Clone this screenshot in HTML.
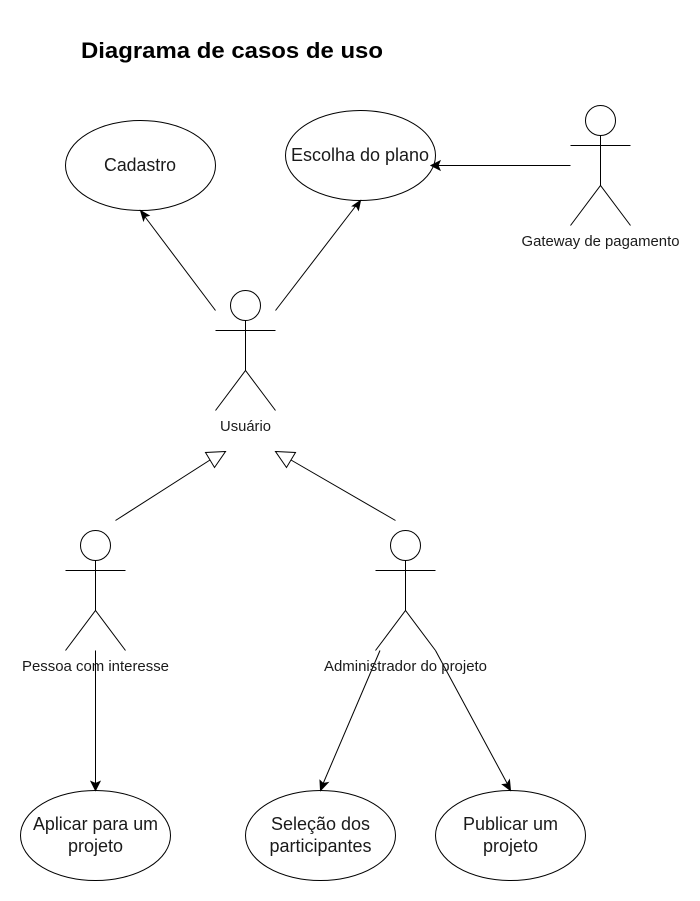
<!DOCTYPE html>
<html>
<head>
<meta charset="utf-8">
<style>
html,body{margin:0;padding:0;background:#fff;}
svg{display:block;}
text{font-family:"Liberation Sans",Arial,sans-serif;fill:#1a1a1a;text-anchor:middle;}
.l{font-size:18px;}
.a{font-size:15px;}
</style>
</head>
<body>
<svg width="700" height="901" viewBox="0 0 700 901" xmlns="http://www.w3.org/2000/svg">
<rect width="700" height="901" fill="#fff"/>
<text x="232" y="58" style="font-size:22px;font-weight:bold;fill:#000" textLength="302" lengthAdjust="spacingAndGlyphs">Diagrama de casos de uso</text>
<g fill="none" stroke="#000" stroke-width="1">
<ellipse cx="140.5" cy="165.5" rx="75" ry="45"/>
<ellipse cx="360.5" cy="155.5" rx="75" ry="45"/>
<ellipse cx="95.5" cy="835.5" rx="75" ry="45"/>
<ellipse cx="320.5" cy="835.5" rx="75" ry="45"/>
<ellipse cx="510.5" cy="835.5" rx="75" ry="45"/>
<circle cx="600.5" cy="120.5" r="15"/><path d="M600.5 135.5V185.5M570.5 145.5H630.5M570.5 225.5L600.5 185.5L630.5 225.5"/>
<circle cx="245.5" cy="305.5" r="15"/><path d="M245.5 320.5V370.5M215.5 330.5H275.5M215.5 410.5L245.5 370.5L275.5 410.5"/>
<circle cx="95.5" cy="545.5" r="15"/><path d="M95.5 560.5V610.5M65.5 570.5H125.5M65.5 650.5L95.5 610.5L125.5 650.5"/>
<circle cx="405.5" cy="545.5" r="15"/><path d="M405.5 560.5V610.5M375.5 570.5H435.5M375.5 650.5L405.5 610.5L435.5 650.5"/>
<path d="M215.5 310.5L144 215.5"/>
<path d="M275.5 310.5L356.5 205"/>
<path d="M570.5 165.5H436"/>
<path d="M115.5 520.5L210 460"/>
<path d="M395.5 520.5L291 460"/>
<path d="M95.5 650.5V785"/>
<path d="M380 650.5L322.5 785"/>
<path d="M435.5 650.5L508 785"/>
<path d="M225.5 451.5L205.5 452.5L214.5 467.5Z"/>
<path d="M275.5 451.5L295.5 452.5L286.5 467.5Z"/>
</g>
<g fill="#000" stroke="#000" stroke-width="1">
<path d="M140.5 210.5L149 215.5L145 216.5L143.500 220.500Z"/>
<path d="M360.500 200.500L358.500 210L356.500 206.500L352.500 206Z"/>
<path d="M431 165.500L440 161L438 165.500L440 170Z"/>
<path d="M95.500 790.500L91 781.500L95.500 783.500L100 781.500Z"/>
<path d="M320.500 790.500L320 780.500L323.200 783.500L328 782.500Z"/>
<path d="M510.500 790.500L502.500 784.500L507 784L509.500 780Z"/>
</g>
<text class="l" x="140" y="171" textLength="72" lengthAdjust="spacingAndGlyphs">Cadastro</text>
<text class="l" x="360" y="161">Escolha do plano</text>
<text class="l" x="95.500" y="830" textLength="125" lengthAdjust="spacingAndGlyphs">Aplicar para um</text>
<text class="l" x="95.500" y="852">projeto</text>
<text class="l" x="320.500" y="830">Seleção dos</text>
<text class="l" x="320.500" y="852">participantes</text>
<text class="l" x="510.500" y="830">Publicar um</text>
<text class="l" x="510.500" y="852">projeto</text>
<text class="a" x="600.500" y="246" textLength="158" lengthAdjust="spacingAndGlyphs">Gateway de pagamento</text>
<text class="a" x="245.500" y="431" textLength="51" lengthAdjust="spacingAndGlyphs">Usuário</text>
<text class="a" x="95.500" y="671" textLength="147" lengthAdjust="spacingAndGlyphs">Pessoa com interesse</text>
<text class="a" x="405.500" y="671" textLength="163" lengthAdjust="spacingAndGlyphs">Administrador do projeto</text>
</svg>
</body>
</html>
